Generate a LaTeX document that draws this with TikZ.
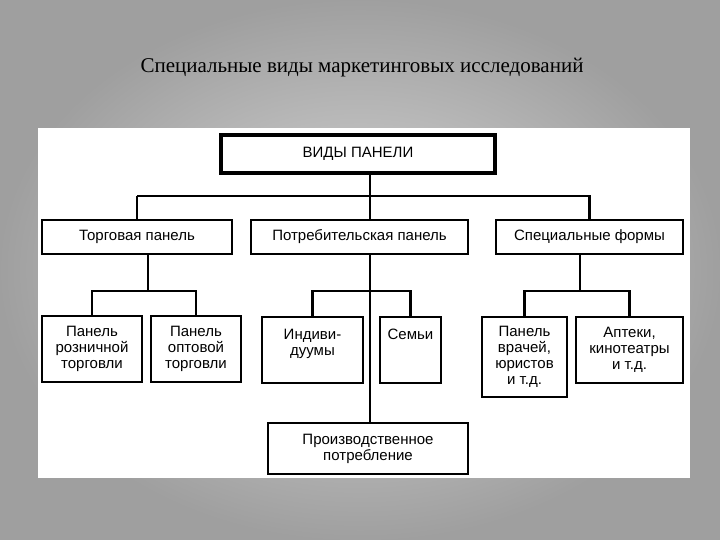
\documentclass[tikz,border=0pt]{standalone}
\usepackage{fontspec}
\setmainfont{Liberation Serif}
\newfontfamily\boxfont{Liberation Sans}
\usetikzlibrary{positioning}
\tikzset{
  box/.style={draw, line width=2.2pt, fill=white, align=center, inner sep=2pt, font=\boxfont\fontsize{15}{16}\selectfont},
  link/.style={line width=2.2pt}
}
\begin{document}
\begin{tikzpicture}[x=1pt,y=-1pt]
  \shade[inner color=gray!30, outer color=gray!75] (0,0) rectangle (720,540);
  \useasboundingbox (0,0) rectangle (720,540);
  \fill[white] (38,128) rectangle (690,478);
  \node[font=\fontsize{21}{23}\selectfont] (title) at (362,68) {Специальные виды маркетинговых исследований};

  % top
  \node[box, line width=3.5pt, minimum width=274, minimum height=38] (vidy) at (358,154) {ВИДЫ ПАНЕЛИ};

  % second row
  \node[box, minimum width=190, minimum height=34] (torg) at (137,237) {Торговая панель};
  \node[box, minimum width=217, minimum height=34] (potr) at (359.5,237) {Потребительская панель};
  \node[box, minimum width=187, minimum height=34] (spec) at (589.5,237) {Специальные формы};

  % third row
  \node[box, minimum width=100, minimum height=66] (rozn) at (92,349) {Панель\\розничной\\торговли};
  \node[box, minimum width=90, minimum height=66] (opt) at (196,349) {Панель\\оптовой\\торговли};
  \node[box, minimum width=101, minimum height=66, anchor=north] (ind) at (312.5,316) {Индиви-\\дуумы\\~};
  \node[box, minimum width=61, minimum height=66, anchor=north] (sem) at (410.5,316) {Семьи\\~\\~};
  \node[box, minimum width=85, minimum height=80, anchor=north] (vrach) at (524.5,316) {Панель\\врачей,\\юристов\\и т.д.};
  \node[box, minimum width=107, minimum height=66, anchor=north] (apt) at (629.5,316) {Аптеки,\\кинотеатры\\и т.д.};

  \node[box, minimum width=200, minimum height=51] (proizv) at (368,448.5) {Производственное\\потребление};

  % junctions
  \coordinate (j1) at (370,196);
  \coordinate (j2) at (148,291);
  \coordinate (j4) at (370,291);
  \coordinate (j3) at (580,291);

  % connectors
  \draw[link] (j1 |- vidy.south) -- (j1);
  \draw[link] (j1 -| torg.north) -- (torg.north);
  \draw[link] (j1 -| torg.north) -- (j1 -| spec.north) -- (spec.north);
  \draw[link] (j1) -- (j1 |- potr.north);
  \draw[link] (j2 |- torg.south) -- (j2);
  \draw[link] (rozn.north) |- (j2) -| (opt.north);
  \draw[link] (j4 |- potr.south) -- (j4 |- proizv.north);
  \draw[link] (ind.north) |- (j4) -| (sem.north);
  \draw[link] (j3 |- spec.south) -- (j3);
  \draw[link] (vrach.north) |- (j3) -| (apt.north);
\end{tikzpicture}
\end{document}
